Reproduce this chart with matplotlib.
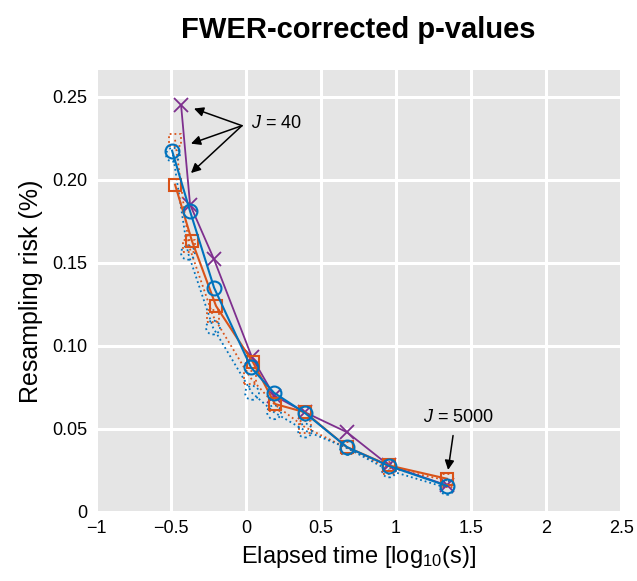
import numpy as np
import matplotlib
matplotlib.use("Agg")
import matplotlib.pyplot as plt

plt.rcParams["font.family"] = ["Liberation Sans", "DejaVu Sans"]
plt.rcParams["mathtext.fontset"] = "custom"
plt.rcParams["mathtext.it"] = "Liberation Sans:italic"
plt.rcParams["mathtext.rm"] = "Liberation Sans"

# elapsed time [log10(s)] and resampling risk (%) per method
x_cross = [-0.433, -0.373, -0.213, 0.04, 0.187, 0.393, 0.673, 0.953, 1.34]
y_cross = [0.245, 0.185, 0.152, 0.093, 0.070, 0.060, 0.048, 0.028, 0.016]

x_square = [-0.473, -0.36, -0.2, 0.047, 0.193, 0.393, 0.673, 0.953, 1.34]
y_square = [0.197, 0.163, 0.124, 0.090, 0.065, 0.060, 0.039, 0.028, 0.020]

x_circle = [-0.493, -0.373, -0.213, 0.033, 0.187, 0.393, 0.673, 0.953, 1.34]
y_circle = [0.2175, 0.181, 0.135, 0.087, 0.0717, 0.0596, 0.039, 0.0277, 0.0157]

x_square_dot = [-0.473, -0.38, -0.22, 0.027, 0.193, 0.393, 0.673, 0.953, 1.34]
y_square_dot = [0.224, 0.160, 0.118, 0.081, 0.0645, 0.051, 0.0385, 0.0265, 0.019]

x_circle_dot = [-0.487, -0.387, -0.22, 0.04, 0.187, 0.393, 0.673, 0.953, 1.34]
y_circle_dot = [0.215, 0.156, 0.111, 0.0717, 0.060, 0.049, 0.0385, 0.025, 0.0145]

BLUE = "#0072BD"
ORANGE = "#D95319"
PURPLE = "#7E2F8E"

fig = plt.figure(figsize=(6.37, 5.81), dpi=100)
ax = fig.add_axes([0.1507, 0.1188, 0.8243, 0.7607])
ax.set_facecolor("#E5E5E5")
for s in ax.spines.values():
    s.set_visible(False)

# dotted series: dotted line and dotted marker outlines
ax.plot(x_square_dot, y_square_dot, ":", color=ORANGE, lw=1.3)
ax.scatter(x_square_dot, y_square_dot, marker="s", s=80, facecolors="none",
           edgecolors=ORANGE, linewidths=1.3, linestyles=":", zorder=3)
ax.plot(x_circle_dot, y_circle_dot, ":", color=BLUE, lw=1.3)
ax.scatter(x_circle_dot, y_circle_dot, marker="o", s=100, facecolors="none",
           edgecolors=BLUE, linewidths=1.3, linestyles=":", zorder=3)

ax.plot(x_cross, y_cross, "-", color=PURPLE, lw=1.3,
        marker="x", ms=10, mew=1.3, zorder=4)
ax.plot(x_square, y_square, "-", color=ORANGE, lw=1.5,
        marker="s", ms=9, mfc="none", mew=1.5, zorder=4)
ax.plot(x_circle, y_circle, "-", color=BLUE, lw=1.5,
        marker="o", ms=10, mfc="none", mew=1.5, zorder=4)

# annotations
arrow = dict(arrowstyle="-|>", color="black", lw=1.1, mutation_scale=14,
             shrinkA=0, shrinkB=0)
for head in [(-0.347, 0.2428), (-0.367, 0.2217), (-0.367, 0.204)]:
    ax.annotate("", xy=head, xytext=(-0.027, 0.2325), arrowprops=arrow)
ax.text(0.2, 0.234, r"$J$ = 40", ha="center", va="center", fontsize=13)
ax.annotate("", xy=(1.347, 0.0253), xytext=(1.38, 0.046), arrowprops=arrow)
ax.text(1.413, 0.0566, r"$J$ = 5000", ha="center", va="center", fontsize=13)

ax.set_xlim(-1, 2.5)
ax.set_ylim(0, 0.266)
ax.set_xticks([-1, -0.5, 0, 0.5, 1, 1.5, 2, 2.5])
ax.set_xticklabels(["\u22121", "\u22120.5", "0", "0.5", "1", "1.5", "2", "2.5"])
ax.set_yticks([0, 0.05, 0.10, 0.15, 0.20, 0.25])
ax.set_yticklabels(["0", "0.05", "0.10", "0.15", "0.20", "0.25"])
ax.grid(True, color="white", lw=2.2)
ax.set_axisbelow(True)
ax.tick_params(length=0, labelsize=13, pad=6)

ax.set_xlabel(r"Elapsed time [log$_{10}$(s)]", fontsize=17, labelpad=5)
ax.set_ylabel("Resampling risk (%)", fontsize=18, labelpad=7)
fig.text(0.562, 0.948, "FWER-corrected p-values", ha="center", va="center",
         fontsize=21, fontweight="bold")

fig.savefig("out.png", dpi=100)
